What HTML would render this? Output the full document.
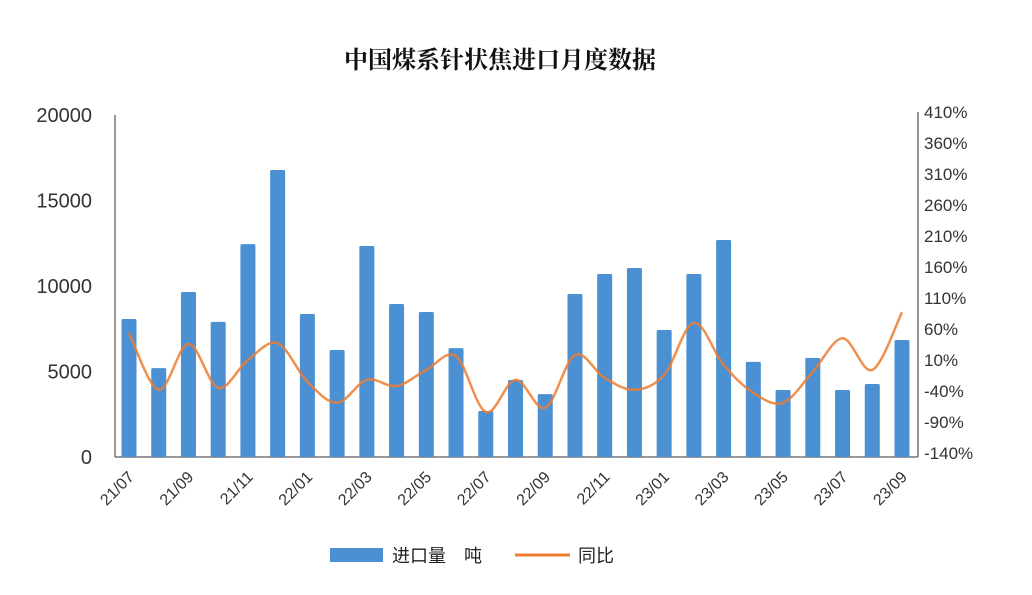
<!DOCTYPE html>
<html><head><meta charset="utf-8"><style>
body{margin:0;background:#fff;width:1032px;height:590px;overflow:hidden}
svg text{font-family:"Liberation Sans","Noto Sans CJK SC",sans-serif}
</style></head><body>
<svg id="c" width="1032" height="590">
<text x="500" y="68" text-anchor="middle" font-size="24" font-weight="bold" fill="#111" style="font-family:'Noto Serif CJK SC','Noto Sans CJK SC',serif">中国煤系针状焦进口月度数据</text>
<g id="axes"></g><g id="bars"></g><g id="line"></g>
<g>
<rect x="330" y="548" width="53" height="14" fill="#4a90d3"/>
<text x="392" y="562" font-size="18" fill="#222">进口量　吨</text>
<line x1="515" y1="555" x2="570" y2="555" stroke="#ed7d31" stroke-width="3"/>
<text x="578" y="562" font-size="18" fill="#222">同比</text>
</g>
</svg>
<script>
const categories=["21/07","21/08","21/09","21/10","21/11","21/12","22/01","22/02","22/03","22/04","22/05","22/06","22/07","22/08","22/09","22/10","22/11","22/12","23/01","23/02","23/03","23/04","23/05","23/06","23/07","23/08","23/09"];
const imports=[8070,5200,9650,7900,12450,16780,8360,6260,12340,8950,8480,6370,2690,4500,3680,9530,10700,11050,7430,10700,12690,5560,3920,5790,3920,4270,6840];
const yoy=[54,-38,36,-35,10,37,-25,-59,-22,-32,-6,16,-74,-22,-67,18,-19,-38,-14,70,2,-43,-59,-9,45,-6,87];
const leftTicks=[0,5000,10000,15000,20000];
const rightTicks=[-140,-90,-40,10,60,110,160,210,260,310,360,410];
const NS="http://www.w3.org/2000/svg";
const X0=115,X1=918,Y0=457,Y1=115;
const xs=i=>129+i*(902-129)/(categories.length-1);
const yl=v=>Y0-(v/20000)*(Y0-Y1);
const yr=v=>453-(v+140)/550*(453-112);
function mk(t,a,p){const e=document.createElementNS(NS,t);for(const k in a)e.setAttribute(k,a[k]);p.appendChild(e);return e;}
const ax=document.getElementById('axes');
let e=mk('line',{x1:X0,y1:Y1,x2:X0,y2:Y0,stroke:'#777','stroke-width':1.5},ax);

e=mk('line',{x1:X0,y1:Y0,x2:X1,y2:Y0,stroke:'#777','stroke-width':1.5},ax);

e=mk('line',{x1:X1,y1:112,x2:X1,y2:Y0,stroke:'#777','stroke-width':1.5},ax);

leftTicks.forEach(v=>{const t=mk('text',{x:92,y:yl(v)+7,'text-anchor':'end','font-size':20,fill:'#333'},ax);t.textContent=v;
});
rightTicks.forEach(v=>{const t=mk('text',{x:924,y:yr(v)+6,'font-size':17,fill:'#333'},ax);t.textContent=v+'%';
});
categories.forEach((c,i)=>{if(i%2)return;const x=xs(i)+6,y=478;
const t=mk('text',{x:x,y:y,'text-anchor':'end','font-size':16,fill:'#333',transform:`rotate(-45 ${x} ${y})`},ax);t.textContent=c;
});
const bg=document.getElementById('bars');
imports.forEach((v,i)=>{const b=mk('rect',{x:xs(i)-7.5,y:yl(v),width:15,height:Y0-yl(v),fill:'#4a90d3',rx:1.5},bg);
});
const pts=yoy.map((v,i)=>[xs(i),yr(v)]);
let d=`M${pts[0][0]},${pts[0][1]}`;
for(let i=0;i<pts.length-1;i++){const p0=pts[i-1]||pts[i],p1=pts[i],p2=pts[i+1],p3=pts[i+2]||p2;
d+=` C${p1[0]+(p2[0]-p0[0])/6},${p1[1]+(p2[1]-p0[1])/6} ${p2[0]-(p3[0]-p1[0])/6},${p2[1]-(p3[1]-p1[1])/6} ${p2[0]},${p2[1]}`;}
const ln=mk('path',{d:d,fill:'none',stroke:'#ed7d31','stroke-width':2.5,'stroke-opacity':0.85},document.getElementById('line'));

</script>
</body></html>
